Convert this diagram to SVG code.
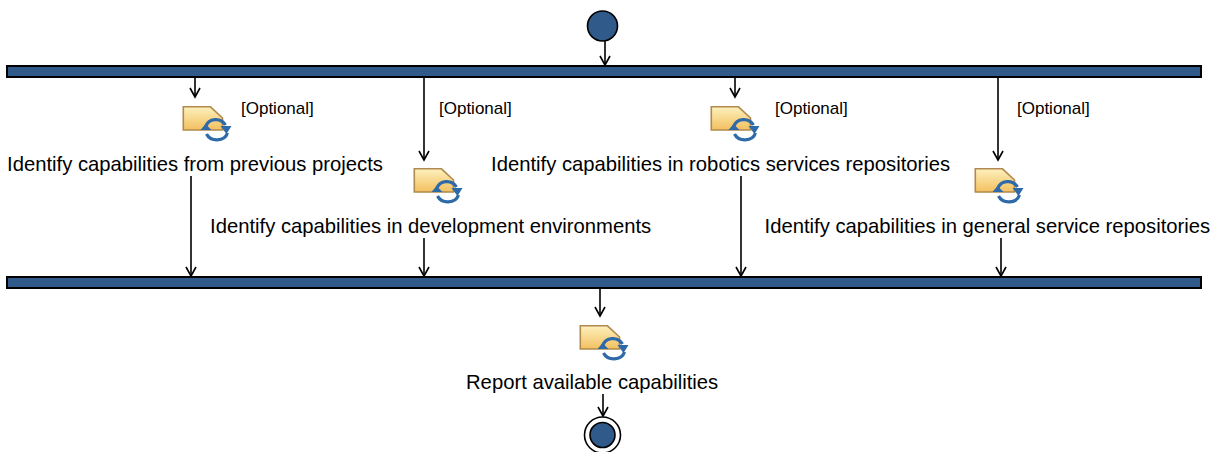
<svg xmlns="http://www.w3.org/2000/svg" width="1217" height="452" viewBox="0 0 1217 452">
<style>
.bar{fill:#2f5a8a;stroke:#000;stroke-width:2}
.dot{fill:#2f5a8a;stroke:#000;stroke-width:1.6}
.lbl{font-family:"Liberation Sans",Arial,sans-serif;font-size:20.25px;fill:#000}
.opt{font-family:"Liberation Sans",Arial,sans-serif;font-size:17px;fill:#000}
.con{fill:none;stroke:#000;stroke-width:1.6}
.doc{fill:url(#docg);stroke:#b08a4e;stroke-width:1.6}
.arc{fill:none;stroke:#2e6aa8;stroke-width:3.2}
.tip{fill:#2e6aa8}
</style>
<defs>
<linearGradient id="docg" x1="0" y1="0" x2="0" y2="1"><stop offset="0" stop-color="#fdf0bd"/><stop offset="1" stop-color="#f3c060"/></linearGradient>
<marker id="ah" markerUnits="userSpaceOnUse" markerWidth="12" markerHeight="14" refX="10" refY="6" orient="auto"><path d="M1 1L10 6L1 11" fill="none" stroke="#000" stroke-width="1.6"/></marker>
<g id="ic">
<path class="doc" d="M0.800 0.800H28L40 12V24H0.800Z"/>
<path class="arc" d="M23 21C26 12 38 11 43 19"/>
<path class="tip" d="M38 20L49 20L44 28Z"/>
<path class="arc" d="M45 27C42 36 28 36 24 28"/>
<path class="tip" d="M18 24L29 24L23 18Z"/>
</g>
</defs>
<g id="connectors" class="con">
<path d="M605 41V65" marker-end="url(#ah)"/>
<path d="M195 77V97" marker-end="url(#ah)"/>
<path d="M424 77V160" marker-end="url(#ah)"/>
<path d="M735 77V97" marker-end="url(#ah)"/>
<path d="M998 77V160" marker-end="url(#ah)"/>
<path d="M191 176V276" marker-end="url(#ah)"/>
<path d="M424 238V276" marker-end="url(#ah)"/>
<path d="M741 176V276" marker-end="url(#ah)"/>
<path d="M1001 238V276" marker-end="url(#ah)"/>
<path d="M600 288V316" marker-end="url(#ah)"/>
<path d="M603 394V416" marker-end="url(#ah)"/>
</g>
<g id="start"><circle class="dot" cx="602.500" cy="26" r="15"/></g>
<g id="fork"><rect class="bar" x="7" y="66" width="1194" height="11"/></g>
<g id="a1"><use href="#ic" x="182.500" y="106"/><text class="opt" x="241" y="114">[Optional]</text><text class="lbl" x="7" y="171">Identify capabilities from previous projects</text></g>
<g id="a2"><use href="#ic" x="413.500" y="168"/><text class="opt" x="439" y="114">[Optional]</text><text class="lbl" x="210" y="233">Identify capabilities in development environments</text></g>
<g id="a3"><use href="#ic" x="710.500" y="106"/><text class="opt" x="775" y="114">[Optional]</text><text class="lbl" x="491" y="171">Identify capabilities in robotics services repositories</text></g>
<g id="a4"><use href="#ic" x="974.500" y="168"/><text class="opt" x="1017" y="114">[Optional]</text><text class="lbl" x="764.500" y="233">Identify capabilities in general service repositories</text></g>
<g id="join"><rect class="bar" x="7" y="277" width="1194" height="11"/></g>
<g id="a5"><use href="#ic" x="579.500" y="325"/><text class="lbl" x="466" y="389">Report available capabilities</text></g>
<g id="end"><circle cx="602.500" cy="435" r="18" fill="#fff" stroke="#000" stroke-width="1.600"/><circle class="dot" cx="602.500" cy="435" r="12.500"/></g>
</svg>
